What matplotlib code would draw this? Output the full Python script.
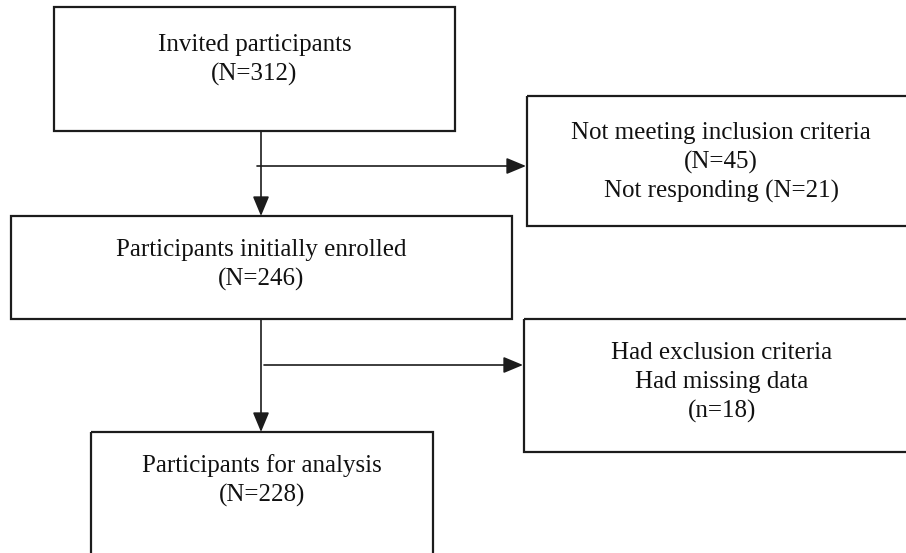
import matplotlib.pyplot as plt
from matplotlib.patches import Rectangle

# flow chart content
box_lines = [
    ["Invited participants", "(N=312)"],
    ["Not meeting inclusion criteria", "(N=45)", "Not responding (N=21)"],
    ["Participants initially enrolled", "(N=246)"],
    ["Had exclusion criteria", "Had missing data", "(n=18)"],
    ["Participants for analysis", "(N=228)"],
]

# box layout in pixels: left, top, right, bottom, first text line y
boxes = [
    (54, 7, 455, 131, 45),
    (527, 96, 915, 226, 133),
    (11, 216, 512, 319, 250),
    (524, 319, 920, 452, 353),
    (91, 432, 433, 600, 466),
]
line_gap = 29
edge = "#1c1c1c"

fig = plt.figure(figsize=(9.06, 5.53), dpi=100)
ax = fig.add_axes([0, 0, 1, 1])
ax.set_xlim(0, 906)
ax.set_ylim(553, 0)
ax.axis("off")

for (l, t, r, b, ty), lines in zip(boxes, box_lines):
    ax.add_patch(Rectangle((l, t), r - l, b - t, fill=False, ec=edge, lw=1.6))
    cx = (l + r) / 2
    for i, s in enumerate(lines):
        ax.text(cx, ty + i * line_gap, s, ha="center", va="center",
                family="Liberation Serif", fontsize=18, color="#111111")

arrow = dict(arrowstyle="-|>,head_length=1.2,head_width=0.5", color=edge,
             lw=1.2, shrinkA=0, shrinkB=0, mutation_scale=10)

# vertical flows
ax.annotate("", xy=(261, 216), xytext=(261, 131), arrowprops=arrow)
ax.annotate("", xy=(261, 432), xytext=(261, 319), arrowprops=arrow)
# side exits
ax.annotate("", xy=(526, 166), xytext=(257, 166), arrowprops=arrow)
ax.annotate("", xy=(523, 365), xytext=(264, 365), arrowprops=arrow)

fig.savefig("out.png", dpi=100)
